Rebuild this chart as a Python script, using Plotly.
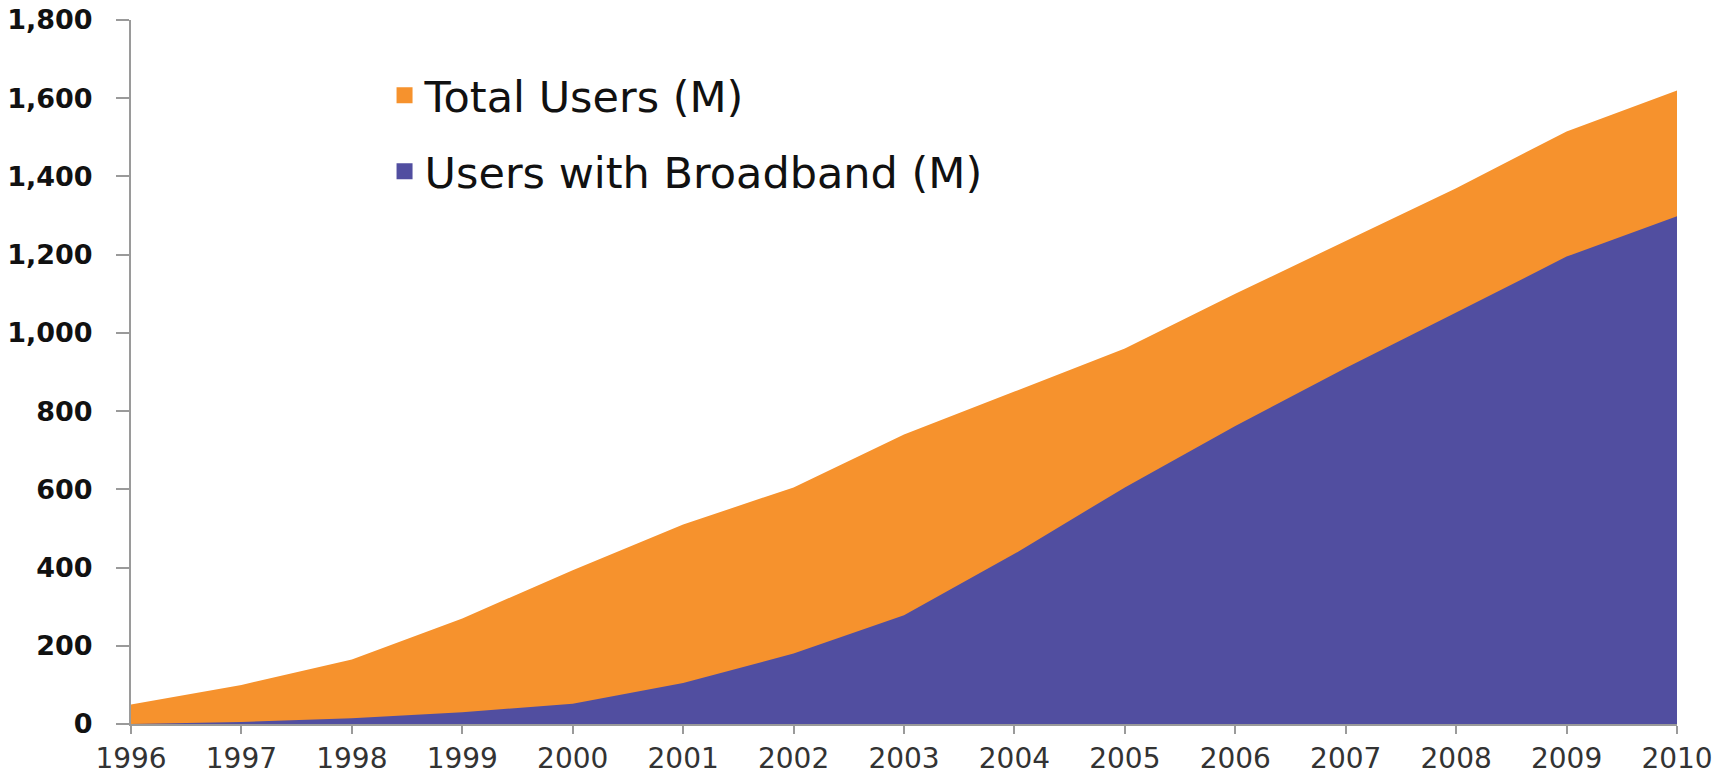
import plotly.graph_objects as go

years = list(range(1996, 2011))
total_users = [50, 100, 165, 270, 393, 510, 605, 740, 850, 960, 1100, 1235, 1370, 1515, 1620]
broadband_users = [0, 5, 15, 30, 52, 105, 180, 278, 435, 605, 762, 910, 1052, 1195, 1298]
y_ticks = [0, 200, 400, 600, 800, 1000, 1200, 1400, 1600, 1800]
y_tick_labels = ["0", "200", "400", "600", "800", "1,000", "1,200", "1,400", "1,600", "1,800"]

ORANGE = "#F6922D"
BLUE = "#514EA0"

fig = go.Figure()
fig.add_trace(go.Scatter(x=years, y=total_users, mode="lines", line=dict(width=0, color=ORANGE),
                         fill="tozeroy", fillcolor=ORANGE, showlegend=False, hoverinfo="skip"))
fig.add_trace(go.Scatter(x=years, y=broadband_users, mode="lines", line=dict(width=0, color=BLUE),
                         fill="tozeroy", fillcolor=BLUE, showlegend=False, hoverinfo="skip"))
# legend entries
fig.add_trace(go.Scatter(x=[None], y=[None], mode="markers", name="Total Users (M)", legendgroup="a",
                         marker=dict(symbol="square", size=24, color=ORANGE)))
fig.add_trace(go.Scatter(x=[None], y=[None], mode="markers", name="Users with Broadband (M)", legendgroup="b",
                         marker=dict(symbol="square", size=24, color=BLUE)))

fig.update_layout(
    width=1733, height=774,
    margin=dict(l=131, r=56, t=20, b=50, autoexpand=False),
    paper_bgcolor="white", plot_bgcolor="white",
    showlegend=True,
    legend=dict(x=0.164, y=0.942, xanchor="left", yanchor="top",
                font=dict(family="DejaVu Sans", size=43, color="#111111"),
                bgcolor="rgba(0,0,0,0)", tracegroupgap=17, itemsizing="trace"),
    xaxis=dict(range=[1996, 2010], tickmode="array", tickvals=years, ticktext=[str(y) for y in years],
               automargin=False, ticklabeloverflow="allow",
               showgrid=False, zeroline=False, showline=True, linecolor="#9a9a9a", linewidth=2,
               ticks="outside", ticklen=8, tickcolor="#9a9a9a", tickwidth=2,
               ticklabelstandoff=0,
               tickfont=dict(family="DejaVu Sans", size=28, color="#333333")),
    yaxis=dict(range=[0, 1800], tickmode="array", tickvals=y_ticks, ticktext=y_tick_labels,
               automargin=False, ticklabeloverflow="allow",
               showgrid=False, zeroline=False, showline=True, linecolor="#9a9a9a", linewidth=2,
               ticks="outside", ticklen=13, tickcolor="#9a9a9a", tickwidth=2,
               ticklabelstandoff=18,
               tickfont=dict(family="DejaVu Sans", size=27, color="#111111", weight="bold")),
)

fig.write_html("out.html", config={"displayModeBar": False},
               post_script="document.body.style.margin='0';document.body.style.padding='0';")
